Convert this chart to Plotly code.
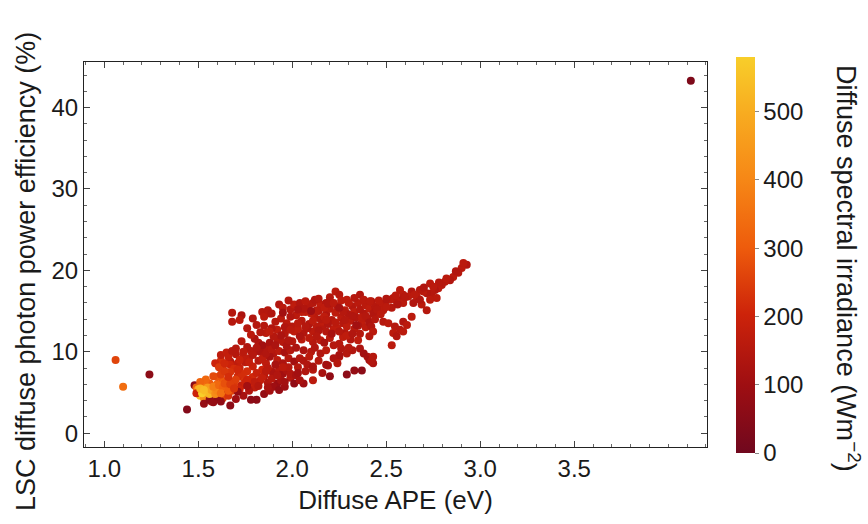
import plotly.graph_objects as go

# ---- data (x: diffuse APE eV, y: efficiency %, c: irradiance W/m2)
outlier_x = [1.06, 1.10, 1.24, 1.44, 4.12]
outlier_y = [9.0, 5.7, 7.2, 2.9, 43.3]
outlier_c = [260, 340, 60, 40, 30]

cluster_x = [1.48,1.49,1.50,1.51,1.52,1.53,1.54,1.55,1.56,1.57,1.58,1.52,1.50,1.53,1.55,1.59,1.60,1.61,1.62,1.63,
             1.64,1.65,1.66,1.60,1.58,1.62,1.56,1.57,1.59,1.63,1.66,1.68,1.69,1.70,1.72,1.73,1.75,1.67,1.71,1.64,
             1.54,1.51,1.49,1.53,1.56,1.58,1.62,1.67,1.70,1.74,1.77,1.78,1.60,1.65,1.71,1.76]
cluster_y = [5.9,5.6,5.0,4.6,5.2,4.8,5.5,4.5,5.1,5.8,4.9,5.8,5.4,4.3,6.1,5.4,6.0,4.7,5.3,6.4,
             5.0,5.8,6.7,6.9,7.0,7.2,6.1,3.9,4.2,4.3,4.6,5.2,6.0,6.6,5.4,7.3,6.2,7.5,7.8,7.6,
             6.6,6.3,4.9,3.6,4.1,3.8,3.9,3.4,4.2,4.6,5.2,4.1,4.5,5.4,5.1,5.8]
cluster_c = [60,330,470,540,560,520,480,500,440,400,420,380,500,430,350,380,330,360,340,300,
             320,280,260,290,270,250,300,150,350,260,230,260,240,250,200,220,200,230,210,240,
             330,320,200,80,60,80,70,60,100,120,140,60,60,90,80,110]

core_x = [1.52,1.54,1.56,1.51,1.55,1.57,1.53,1.59,1.60,1.58,1.61,1.63,1.62,1.66,1.64,1.67,1.69,1.66]
core_y = [4.9,5.1,4.8,5.5,5.6,5.3,5.3,4.8,5.2,5.7,5.9,5.6,4.9,5.2,6.1,6.0,5.5,6.9]
core_c = [580,560,530,520,450,470,540,420,400,380,330,310,350,300,280,250,230,220]

lower_x = [1.62,1.63,1.62,1.67,1.67,1.70,1.71,1.75,1.78,1.80,1.83,1.73,1.82,1.86,1.88,1.92,1.90,1.93,1.96,1.99,
           1.92,1.95,1.98,2.01,2.04,1.77,1.79,1.82,1.84,1.86,1.88,1.76,1.79,1.81,1.83,1.85,1.87,1.89,1.90,1.93,
           1.95,1.97,1.99,1.92,1.94,1.90,1.93,1.96,1.81,1.85,1.88,1.80,1.78,1.74,1.72,1.69,1.74,1.76,1.70,1.65,
           1.59,1.61,1.85,1.87,1.91,1.84,1.80,1.95,1.97,2.00,2.02,
           1.64,1.66,1.68,1.72,1.74,1.77,1.79,1.81,1.84,1.86,1.89,1.91,1.68,1.71,1.73,1.76,1.80,1.82,1.84,1.86,
           1.87,1.89,1.92,1.96,1.99,2.02,2.03,2.06,1.98,1.95]
lower_y = [8.9,8.2,9.6,8.8,8.4,9.7,8.6,8.7,10.1,10.0,10.0,11.3,11.1,10.6,11.1,11.5,9.8,10.1,9.9,10.2,
           9.0,8.6,9.2,8.8,9.2,9.2,8.2,8.9,7.8,8.6,9.4,7.6,6.9,7.4,6.5,7.0,6.2,7.6,7.4,7.8,
           7.3,7.7,6.8,6.1,6.5,5.7,5.3,5.7,4.1,4.8,5.2,5.6,6.3,6.8,8.0,7.9,9.4,10.6,10.4,9.9,
           8.6,8.1,9.5,8.0,8.4,10.8,11.6,11.2,10.7,11.3,10.5,
           8.6,9.4,10.1,9.0,10.0,8.7,9.6,10.5,9.1,9.8,10.3,10.8,6.3,7.0,5.9,6.6,6.3,5.8,6.9,7.6,
           5.6,6.7,7.1,6.3,7.3,7.1,8.1,8.9,8.1,8.1]
lower_c = [220,200,170,150,200,150,170,160,150,150,130,150,140,140,120,150,140,160,120,150,
           160,130,150,110,150,170,190,150,200,170,120,220,210,190,180,160,140,150,130,150,
           110,130,150,90,120,100,80,100,60,80,110,170,200,230,190,220,170,140,150,180,
           200,240,140,160,120,110,130,150,130,150,130,
           210,180,150,190,160,180,150,140,170,140,150,130,230,210,180,200,170,150,180,160,
           120,150,140,110,140,120,150,140,150,160]

arm_x = [2.01,2.06,2.04,2.07,2.11,2.03,2.11,2.08,2.11,2.14,2.19,2.18,2.20,2.29,2.33,2.37,2.25,2.25,2.29,2.32,
         2.40,2.41,2.43,2.42,2.43,2.15,2.10,2.06,2.09,2.22,2.26,2.30,2.36,2.38,2.16,2.24]
arm_y = [6.1,6.1,6.5,7.6,7.8,7.4,6.5,8.4,8.2,8.9,8.3,8.4,7.0,7.2,7.7,7.7,9.4,9.6,9.8,10.2,
         9.4,9.0,8.6,8.8,9.4,9.8,10.0,10.2,9.4,9.2,10.4,10.5,10.4,9.8,7.4,8.6]
arm_c = [70,100,120,140,150,110,160,140,120,150,130,110,70,60,80,60,140,120,150,140,
         130,110,130,140,150,140,150,130,160,130,140,150,130,110,120,150]

body_x = [1.93,1.95,1.99,2.01,2.04,2.08,2.11,2.15,2.18,2.23,2.25,2.29,2.20,2.36,1.88,1.96,2.01,2.06,2.11,2.16,
          2.22,1.98,2.05,2.11,2.15,2.02,2.05,2.07,2.09,2.12,2.14,2.16,2.18,2.20,2.21,2.23,2.24,2.26,2.27,2.28,
          2.30,2.31,2.32,2.33,2.34,2.35,2.36,2.37,2.38,2.39,2.40,2.41,2.42,2.38,2.33,2.26,2.20,2.13,2.09,2.05,
          1.99,1.97,2.00,2.03,2.08,2.13,2.18,2.24,2.28,2.33,2.36,2.27,2.31,2.20,2.25,2.35,2.19,2.23,2.15,2.10,
          2.06,1.94,1.91,1.92,1.89,1.86,1.85,2.29,2.35,2.39,2.27,2.17,2.12,
          1.95,1.98,2.03,2.07,2.10,2.14,2.17,2.19,2.22,2.25,2.28,2.30,2.32,2.34,2.37,2.39,2.41,2.44,2.46,2.03,
          2.07,2.11,2.14,2.18,2.21,2.25,2.29,2.32,2.04,2.09,2.13,2.17,2.22,2.12,2.18,1.94,1.90,1.88,1.96,1.99]
body_y = [15.8,15.4,15.2,15.8,16.0,15.4,16.0,15.8,16.0,17.4,17.0,16.4,16.7,17.0,14.7,12.2,12.5,12.3,12.5,13.1,
          12.8,11.4,11.5,11.2,11.4,14.5,13.8,14.9,13.4,14.2,15.0,13.7,14.6,15.3,13.9,14.8,15.6,14.2,13.5,15.1,
          14.6,13.8,15.6,14.9,14.2,16.0,15.2,13.6,14.7,15.7,14.1,15.3,16.2,16.4,16.6,16.3,16.2,15.1,15.8,14.9,
          14.3,13.5,13.1,12.8,12.9,13.1,12.5,12.9,12.3,12.8,12.2,11.8,11.5,11.7,11.0,11.4,13.4,13.6,14.0,14.7,
          15.3,14.1,13.7,12.7,12.9,12.3,13.2,13.1,13.2,13.0,14.9,15.4,16.4,
          14.8,16.3,15.2,16.2,15.0,16.5,14.3,15.9,16.0,15.4,13.9,16.0,14.4,13.3,14.2,14.4,13.6,14.9,15.0,13.5,
          13.1,13.8,12.6,13.9,12.2,12.5,12.0,12.2,11.9,11.7,11.9,11.1,10.8,10.5,10.2,12.0,11.9,12.5,13.0,12.7]
body_c = [140,160,150,170,140,160,150,170,140,160,150,170,150,140,160,150,170,140,160,150,
          170,140,160,150,170,160,150,170,140,160,150,170,140,160,150,170,140,160,150,170,
          140,160,150,170,140,160,150,170,140,160,150,170,140,160,150,170,140,160,150,170,
          140,160,150,170,140,160,150,170,140,160,150,170,140,160,150,170,140,160,150,170,
          140,160,150,170,140,160,150,170,140,160,150,170,140,
          110,150,130,160,100,150,170,140,160,120,150,170,140,110,160,150,130,150,140,160,
          150,170,140,160,120,150,170,140,130,160,150,120,150,140,160,130,150,170,140,160]

leftarm_x = [1.68,1.73,1.68,1.72,1.76,1.79,1.84,1.85,1.87,1.89,1.81,1.78,1.83]
leftarm_y = [14.8,14.5,13.7,13.9,12.9,14.1,14.9,14.3,15.1,14.7,13.3,12.1,12.4]
leftarm_c = [150,130,150,160,150,140,150,160,150,140,150,160,150]

band_x = [2.928,2.901,2.883,2.856,2.839,2.812,2.795,2.777,2.759,2.733,2.741,2.768,2.715,2.697,2.679,2.662,2.635,2.617,2.590,2.573,
          2.582,2.555,2.537,2.520,2.493,2.466,2.440,2.413,2.431,2.484,2.529,2.590,2.644,2.688,2.715,2.635,2.679,2.733,2.484,2.511,
          2.59,2.61,2.546,2.537,2.555,2.529,2.573,2.590,2.42,2.43,2.41,2.91,2.87,2.82,2.78,2.75,2.70,2.65,2.60,2.55,
          2.50,2.46,2.45,2.50,2.56,2.47,2.44]
band_y = [20.7,20.3,19.7,19.2,18.8,18.6,18.2,17.8,17.6,18.4,17.2,16.6,17.2,17.4,17.6,16.8,17.4,16.8,17.0,17.6,
          16.4,16.2,16.6,16.4,16.0,15.8,15.6,16.2,14.7,15.1,15.4,16.0,16.0,15.8,15.1,14.3,16.4,16.4,13.7,13.5,
          13.7,13.3,13.1,12.3,11.9,10.8,12.7,12.5,13.1,12.5,11.9,20.9,19.9,19.0,18.5,18.0,17.9,17.0,16.7,16.9,
          16.5,16.3,15.2,15.5,15.8,14.6,14.0]
band_c = [140,160,150,160,140,160,150,160,140,160,150,160,140,160,150,160,140,160,150,160,
          140,160,150,160,140,160,150,160,140,160,150,160,140,160,150,160,140,160,150,160,
          140,160,150,160,140,160,150,160,140,160,150,160,140,160,150,160,140,160,150,160,
          140,160,150,160,140,160,150]

x_ticks = [1.0, 1.5, 2.0, 2.5, 3.0, 3.5]
y_ticks = [0, 10, 20, 30, 40]
cbar_ticks = [0, 100, 200, 300, 400, 500]

xs = outlier_x + lower_x + arm_x + body_x + leftarm_x + band_x + cluster_x + core_x
ys = outlier_y + lower_y + arm_y + body_y + leftarm_y + band_y + cluster_y + core_y
cs = outlier_c + lower_c + arm_c + body_c + leftarm_c + band_c + cluster_c + core_c

colorscale = [
    [0.0, "rgb(112,8,30)"],
    [0.17, "rgb(158,14,18)"],
    [0.35, "rgb(205,35,10)"],
    [0.52, "rgb(238,92,12)"],
    [0.69, "rgb(246,135,22)"],
    [0.86, "rgb(248,172,32)"],
    [1.0, "rgb(248,206,42)"],
]

FONT = "Liberation Sans, Arial, sans-serif"
TXT = "#1a1a1a"

fig = go.Figure(go.Scatter(
    x=xs, y=ys, mode="markers",
    marker=dict(
        size=8, color=cs, cmin=0, cmax=580, colorscale=colorscale,
        line=dict(width=0),
        colorbar=dict(
            x=1.0465, xanchor="left", xref="paper", xpad=0, ypad=0,
            y=0.4987, yanchor="middle", len=1.0286, lenmode="fraction",
            thickness=19, outlinewidth=0,
            tickvals=cbar_ticks, ticks="outside", ticklen=4, tickcolor="#888",
            tickfont=dict(family=FONT, size=24, color=TXT),
        ),
    ),
    showlegend=False,
))

axis_common = dict(
    showline=True, linecolor="#222", linewidth=1, mirror="ticks",
    ticks="inside", ticklen=6, tickcolor="#444", tickwidth=1,
    showgrid=False, zeroline=False,
    tickfont=dict(family=FONT, size=24, color=TXT),
)

fig.update_layout(
    width=868, height=524,
    margin=dict(l=84, r=161, t=62, b=77),
    paper_bgcolor="white", plot_bgcolor="white",
    xaxis=dict(range=[0.892, 4.206], tickvals=x_ticks, ticktext=["1.0", "1.5", "2.0", "2.5", "3.0", "3.5"],
               minor=dict(dtick=0.1, tick0=0, ticks="inside", ticklen=3, tickcolor="#666"),
               title=dict(text="Diffuse APE (eV)", font=dict(family=FONT, size=26, color=TXT), standoff=10),
               **axis_common),
    yaxis=dict(range=[-1.7, 45.6], tickvals=y_ticks,
               minor=dict(dtick=2, tick0=0, ticks="inside", ticklen=3, tickcolor="#666"),
               **axis_common),
    annotations=[
        dict(text="LSC diffuse photon power efficiency (%)", textangle=-90,
             xref="paper", yref="paper", x=(26 - 84) / 623, y=(447 - 272) / 385,
             xanchor="center", yanchor="middle", showarrow=False,
             font=dict(family=FONT, size=27, color=TXT)),
        dict(text="Diffuse spectral irradiance (Wm<sup>−2</sup>)", textangle=90,
             xref="paper", yref="paper", x=(848 - 84) / 623, y=(447 - 268) / 385,
             xanchor="center", yanchor="middle", showarrow=False,
             font=dict(family=FONT, size=27, color=TXT)),
    ],
)

fig.write_html("out.html")
